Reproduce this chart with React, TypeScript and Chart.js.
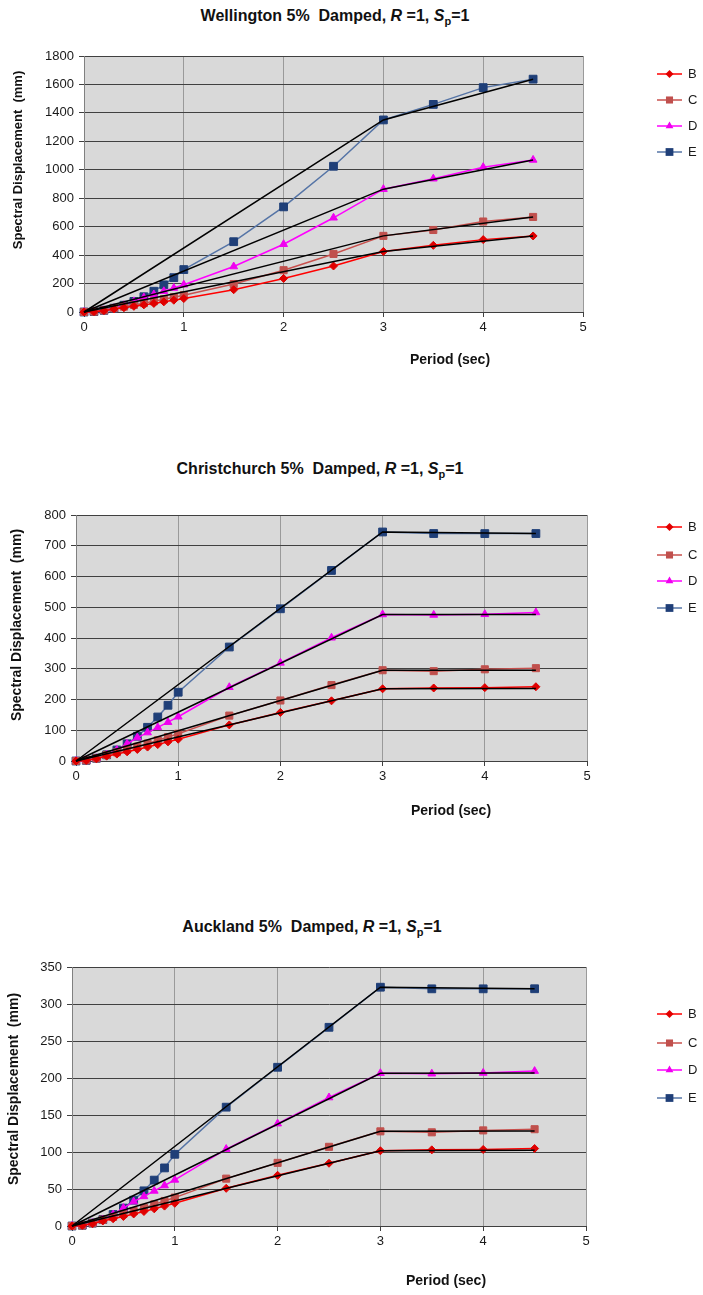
import React, { useEffect, useRef } from 'react';
import { Chart, registerables } from 'chart.js';

Chart.register(...registerables);

// ---------- data ----------
const periods = [0, 0.1, 0.2, 0.3, 0.4, 0.5, 0.6, 0.7, 0.8, 0.9, 1.0, 1.5, 2.0, 2.5, 3.0, 3.5, 4.0, 4.5];
const envelopePeriods = [0, 3, 4.5];
const siteClasses = ['B', 'C', 'D', 'E'];
const xTicks = [0, 1, 2, 3, 4, 5];

const wellingtonB = [0, 2.3, 9.3, 21.0, 30.1, 39.8, 50.1, 60.4, 71.3, 82.9, 94.4, 156.6, 236.0, 323.5, 425.8, 468.6, 508.9, 534.6];
const wellingtonC = [0, 2.9, 11.6, 26.2, 37.5, 49.7, 62.3, 75.5, 89.7, 103.9, 118.3, 196.8, 293.9, 408.3, 535.3, 576.7, 636.2, 668.3];
const wellingtonD = [0, 3.0, 11.9, 26.8, 47.7, 74.6, 101.6, 123.2, 145.7, 168.3, 191.8, 319.8, 476.5, 662.5, 863.8, 937.1, 1017.9, 1069.2];
const wellingtonE = [0, 3.0, 11.9, 26.8, 47.7, 74.6, 107.3, 146.1, 190.9, 241.5, 298.2, 494.3, 739.2, 1024.6, 1350.5, 1459.7, 1577.7, 1637.2];
const wellingtonEnvB = [0, 425.8, 534.6];
const wellingtonEnvC = [0, 535.3, 668.3];
const wellingtonEnvD = [0, 863.8, 1069.2];
const wellingtonEnvE = [0, 1350.5, 1637.2];

const christchurchB = [0, 1.8, 7.0, 15.8, 22.5, 29.8, 37.6, 45.3, 53.4, 62.2, 70.8, 117.4, 158.0, 195.7, 234.8, 237.4, 238.6, 241.5];
const christchurchC = [0, 2.2, 8.7, 19.7, 28.2, 37.3, 46.7, 56.6, 67.3, 77.9, 88.7, 147.6, 196.8, 246.9, 295.2, 292.2, 298.2, 301.9];
const christchurchD = [0, 2.2, 8.9, 20.1, 35.8, 55.9, 76.2, 92.4, 109.3, 126.2, 143.9, 239.8, 319.1, 400.7, 476.4, 474.9, 477.1, 483.1];
const christchurchE = [0, 2.2, 8.9, 20.1, 35.8, 55.9, 80.5, 109.6, 143.1, 181.2, 223.7, 370.7, 495.0, 619.7, 744.8, 739.7, 739.5, 739.7];
const christchurchEnvB = [0, 234.8, 236.0];
const christchurchEnvC = [0, 295.2, 295.2];
const christchurchEnvD = [0, 476.4, 476.4];
const christchurchEnvE = [0, 744.8, 739.7];

const aucklandB = [0, 0.8, 3.0, 6.8, 9.8, 12.9, 16.3, 19.6, 23.2, 26.9, 30.7, 50.9, 68.5, 84.8, 101.7, 102.9, 103.4, 104.7];
const aucklandC = [0, 0.9, 3.8, 8.5, 12.2, 16.2, 20.2, 24.5, 29.2, 33.8, 38.4, 64.0, 85.3, 107.0, 127.9, 126.6, 129.2, 130.8];
const aucklandD = [0, 1.0, 3.9, 8.7, 15.5, 24.2, 33.0, 40.0, 47.4, 54.7, 62.3, 103.9, 138.3, 173.6, 206.4, 205.8, 206.8, 209.3];
const aucklandE = [0, 1.0, 3.9, 8.7, 15.5, 24.2, 34.9, 47.5, 62.0, 78.5, 96.9, 160.6, 214.5, 268.5, 322.7, 320.5, 320.5, 320.6];
const aucklandEnvB = [0, 101.7, 102.5];
const aucklandEnvC = [0, 127.9, 128.5];
const aucklandEnvD = [0, 206.4, 206.6];
const aucklandEnvE = [0, 322.7, 320.6];

const yTitle = 'Spectral Displacement  (mm)';
const xTitle = 'Period (sec)';

// ---------- styles / layout ----------
const FONT = '"Liberation Sans", Arial, Helvetica, sans-serif';
const W = 703;

const seriesStyle = [
  { line: '#FF0000', point: '#E00000', pointStyle: 'rectRot', radius: 4 },
  { line: '#C8504D', point: '#C0504D', pointStyle: 'rect', radius: 5 },
  { line: '#FF00FF', point: '#F000F0', pointStyle: 'triangle', radius: 4.5 },
  { line: '#5574A6', point: '#1F3F78', pointStyle: 'rect', radius: 5.5 },
];

const specs = [
  {
    place: 'Wellington',
    series: [wellingtonB, wellingtonC, wellingtonD, wellingtonE],
    env: [wellingtonEnvB, wellingtonEnvC, wellingtonEnvD, wellingtonEnvE],
    yMax: 1800, yStep: 200,
    plotLeft: 84, plotRight: 583, plotTop: 56, plotBottom: 312,
    titleX: 335, titleY: 16,
    yTitleX: 18, yTitleY: 160, yTitleSize: 13,
    xTitleX: 450, xTitleY: 360,
    legendY: [74, 100, 126, 152],
  },
  {
    place: 'Christchurch',
    series: [christchurchB, christchurchC, christchurchD, christchurchE],
    env: [christchurchEnvB, christchurchEnvC, christchurchEnvD, christchurchEnvE],
    yMax: 800, yStep: 100,
    plotLeft: 76, plotRight: 587, plotTop: 515, plotBottom: 761,
    titleX: 320, titleY: 469,
    yTitleX: 17, yTitleY: 625, yTitleSize: 14,
    xTitleX: 451, xTitleY: 811,
    legendY: [527, 555, 581, 608],
  },
  {
    place: 'Auckland',
    series: [aucklandB, aucklandC, aucklandD, aucklandE],
    env: [aucklandEnvB, aucklandEnvC, aucklandEnvD, aucklandEnvE],
    yMax: 350, yStep: 50,
    plotLeft: 72, plotRight: 586, plotTop: 967, plotBottom: 1226,
    titleX: 312, titleY: 927,
    yTitleX: 14, yTitleY: 1089, yTitleSize: 14,
    xTitleX: 446, xTitleY: 1281,
    legendY: [1014, 1043, 1070, 1098],
  },
];

const TOP_PAD = 20;
const BOTTOM_EXTRA = 72;
const Y_AXIS_W = 50;
const X_AXIS_H = 30;

function drawMarker(ctx: CanvasRenderingContext2D, style: string, x: number, y: number, r: number, color: string) {
  ctx.save();
  ctx.fillStyle = color;
  ctx.beginPath();
  if (style === 'rectRot') {
    ctx.moveTo(x, y - r);
    ctx.lineTo(x + r, y);
    ctx.lineTo(x, y + r);
    ctx.lineTo(x - r, y);
  } else if (style === 'triangle') {
    ctx.moveTo(x, y - r);
    ctx.lineTo(x + r * 0.866, y + r * 0.5);
    ctx.lineTo(x - r * 0.866, y + r * 0.5);
  } else {
    const s = r * Math.SQRT1_2;
    ctx.rect(x - s, y - s, 2 * s, 2 * s);
  }
  ctx.closePath();
  ctx.fill();
  ctx.restore();
}

function SpectrumChart({ spec }: { spec: any }) {
  const ref = useRef<HTMLCanvasElement>(null);
  const canvasTop = spec.plotTop - TOP_PAD;
  const canvasH = spec.plotBottom + BOTTOM_EXTRA - canvasTop;

  useEffect(() => {
    if (!ref.current) return;
    const decor = {
      id: 'decor',
      beforeDraw(chart: any) {
        const { ctx, chartArea } = chart;
        ctx.save();
        ctx.fillStyle = '#D9D9D9';
        ctx.fillRect(chartArea.left, chartArea.top, chartArea.right - chartArea.left, chartArea.bottom - chartArea.top);
        ctx.restore();
      },
      afterDraw(chart: any) {
        const ctx = chart.ctx as CanvasRenderingContext2D;
        ctx.save();
        ctx.fillStyle = '#111';
        ctx.textAlign = 'center';
        ctx.textBaseline = 'middle';
        // y title
        ctx.save();
        ctx.translate(spec.yTitleX, spec.yTitleY - canvasTop);
        ctx.rotate(-Math.PI / 2);
        ctx.font = `bold ${spec.yTitleSize}px ${FONT}`;
        ctx.fillText(yTitle, 0, 0);
        ctx.restore();
        // x title
        ctx.font = `bold 14px ${FONT}`;
        ctx.fillText(xTitle, spec.xTitleX, spec.xTitleY - canvasTop);
        // legend
        seriesStyle.forEach((st, k) => {
          const y = spec.legendY[k] - canvasTop;
          ctx.strokeStyle = st.line;
          ctx.lineWidth = 1.5;
          ctx.beginPath();
          ctx.moveTo(657, y);
          ctx.lineTo(682, y);
          ctx.stroke();
          drawMarker(ctx, st.pointStyle, 669.5, y, st.radius, st.point);
          ctx.fillStyle = '#1a1a1a';
          ctx.font = `13px ${FONT}`;
          ctx.textAlign = 'left';
          ctx.fillText(siteClasses[k], 688, y + 0.5);
        });
        ctx.restore();
      },
    };

    const datasets: any[] = [];
    spec.env.forEach((vals: number[], k: number) => {
      datasets.push({
        label: 'envelope ' + siteClasses[k],
        data: envelopePeriods.map((x, i) => ({ x, y: vals[i] })),
        showLine: true,
        borderColor: '#000000',
        borderWidth: 1.5,
        pointRadius: 0,
        clip: false,
        order: 0,
      });
    });
    spec.series.forEach((vals: number[], k: number) => {
      const st = seriesStyle[k];
      datasets.push({
        label: siteClasses[k],
        data: periods.map((x, i) => ({ x, y: vals[i] })),
        showLine: true,
        borderColor: st.line,
        borderWidth: 1.5,
        backgroundColor: st.point,
        pointBackgroundColor: st.point,
        pointBorderColor: st.point,
        pointBorderWidth: 1,
        pointStyle: st.pointStyle,
        pointRadius: st.radius,
        clip: false,
        order: 1,
      });
    });

    const chart = new Chart(ref.current, {
      type: 'scatter',
      data: { datasets },
      options: {
        animation: false,
        responsive: false,
        events: [],
        layout: {
          padding: {
            left: spec.plotLeft - Y_AXIS_W,
            right: W - spec.plotRight,
            top: TOP_PAD,
            bottom: canvasH - TOP_PAD - (spec.plotBottom - spec.plotTop) - X_AXIS_H,
          },
        },
        plugins: { legend: { display: false }, tooltip: { enabled: false }, title: { display: false } },
        scales: {
          x: {
            type: 'linear',
            min: 0,
            max: 5,
            afterBuildTicks: (scale: any) => { scale.ticks = xTicks.map((v) => ({ value: v })); },
            afterFit: (scale: any) => { scale.height = X_AXIS_H; },
            ticks: {
              color: '#1a1a1a', font: { family: FONT, size: 13 }, padding: 3, maxRotation: 0,
              callback: (v: any) => String(v),
            },
            grid: { color: '#9a9a9a', lineWidth: 1, tickLength: 5, tickColor: '#404040' },
            border: { color: '#404040', width: 1 },
          },
          y: {
            type: 'linear',
            min: 0,
            max: spec.yMax,
            afterFit: (scale: any) => { scale.width = Y_AXIS_W; },
            ticks: {
              stepSize: spec.yStep, color: '#1a1a1a', font: { family: FONT, size: 13 }, padding: 5,
              callback: (v: any) => String(v),
            },
            grid: { color: '#404040', lineWidth: 1, tickLength: 5 },
            border: { color: '#808080', width: 1 },
          },
        },
      } as any,
      plugins: [decor],
    } as any);
    return () => chart.destroy();
  }, []);

  return (
    <div style={{ position: 'absolute', left: 0, top: canvasTop, width: W, height: canvasH }}>
      <canvas ref={ref} width={W} height={canvasH} style={{ display: 'block', width: W, height: canvasH }} />
    </div>
  );
}

function Title({ spec }: { spec: any }) {
  return (
    <div
      style={{
        position: 'absolute',
        left: spec.titleX,
        top: spec.titleY,
        transform: 'translate(-50%, -50%)',
        font: `bold 16px ${FONT}`,
        whiteSpace: 'pre',
        color: '#111',
        lineHeight: '20px',
      }}
    >
      {spec.place} 5%{'\u00a0'} Damped, <i>R</i> =1, <i>S</i>
      <span style={{ fontSize: '11px', position: 'relative', top: '4px' }}>p</span>=1
    </div>
  );
}

export default function App() {
  useEffect(() => {
    document.body.style.margin = '0';
    document.body.style.background = '#ffffff';
  }, []);
  return (
    <div style={{ position: 'relative', width: W, height: 1295, background: '#fff', overflow: 'hidden' }}>
      {specs.map((s) => (
        <SpectrumChart key={s.place} spec={s} />
      ))}
      {specs.map((s) => (
        <Title key={'t' + s.place} spec={s} />
      ))}
    </div>
  );
}
